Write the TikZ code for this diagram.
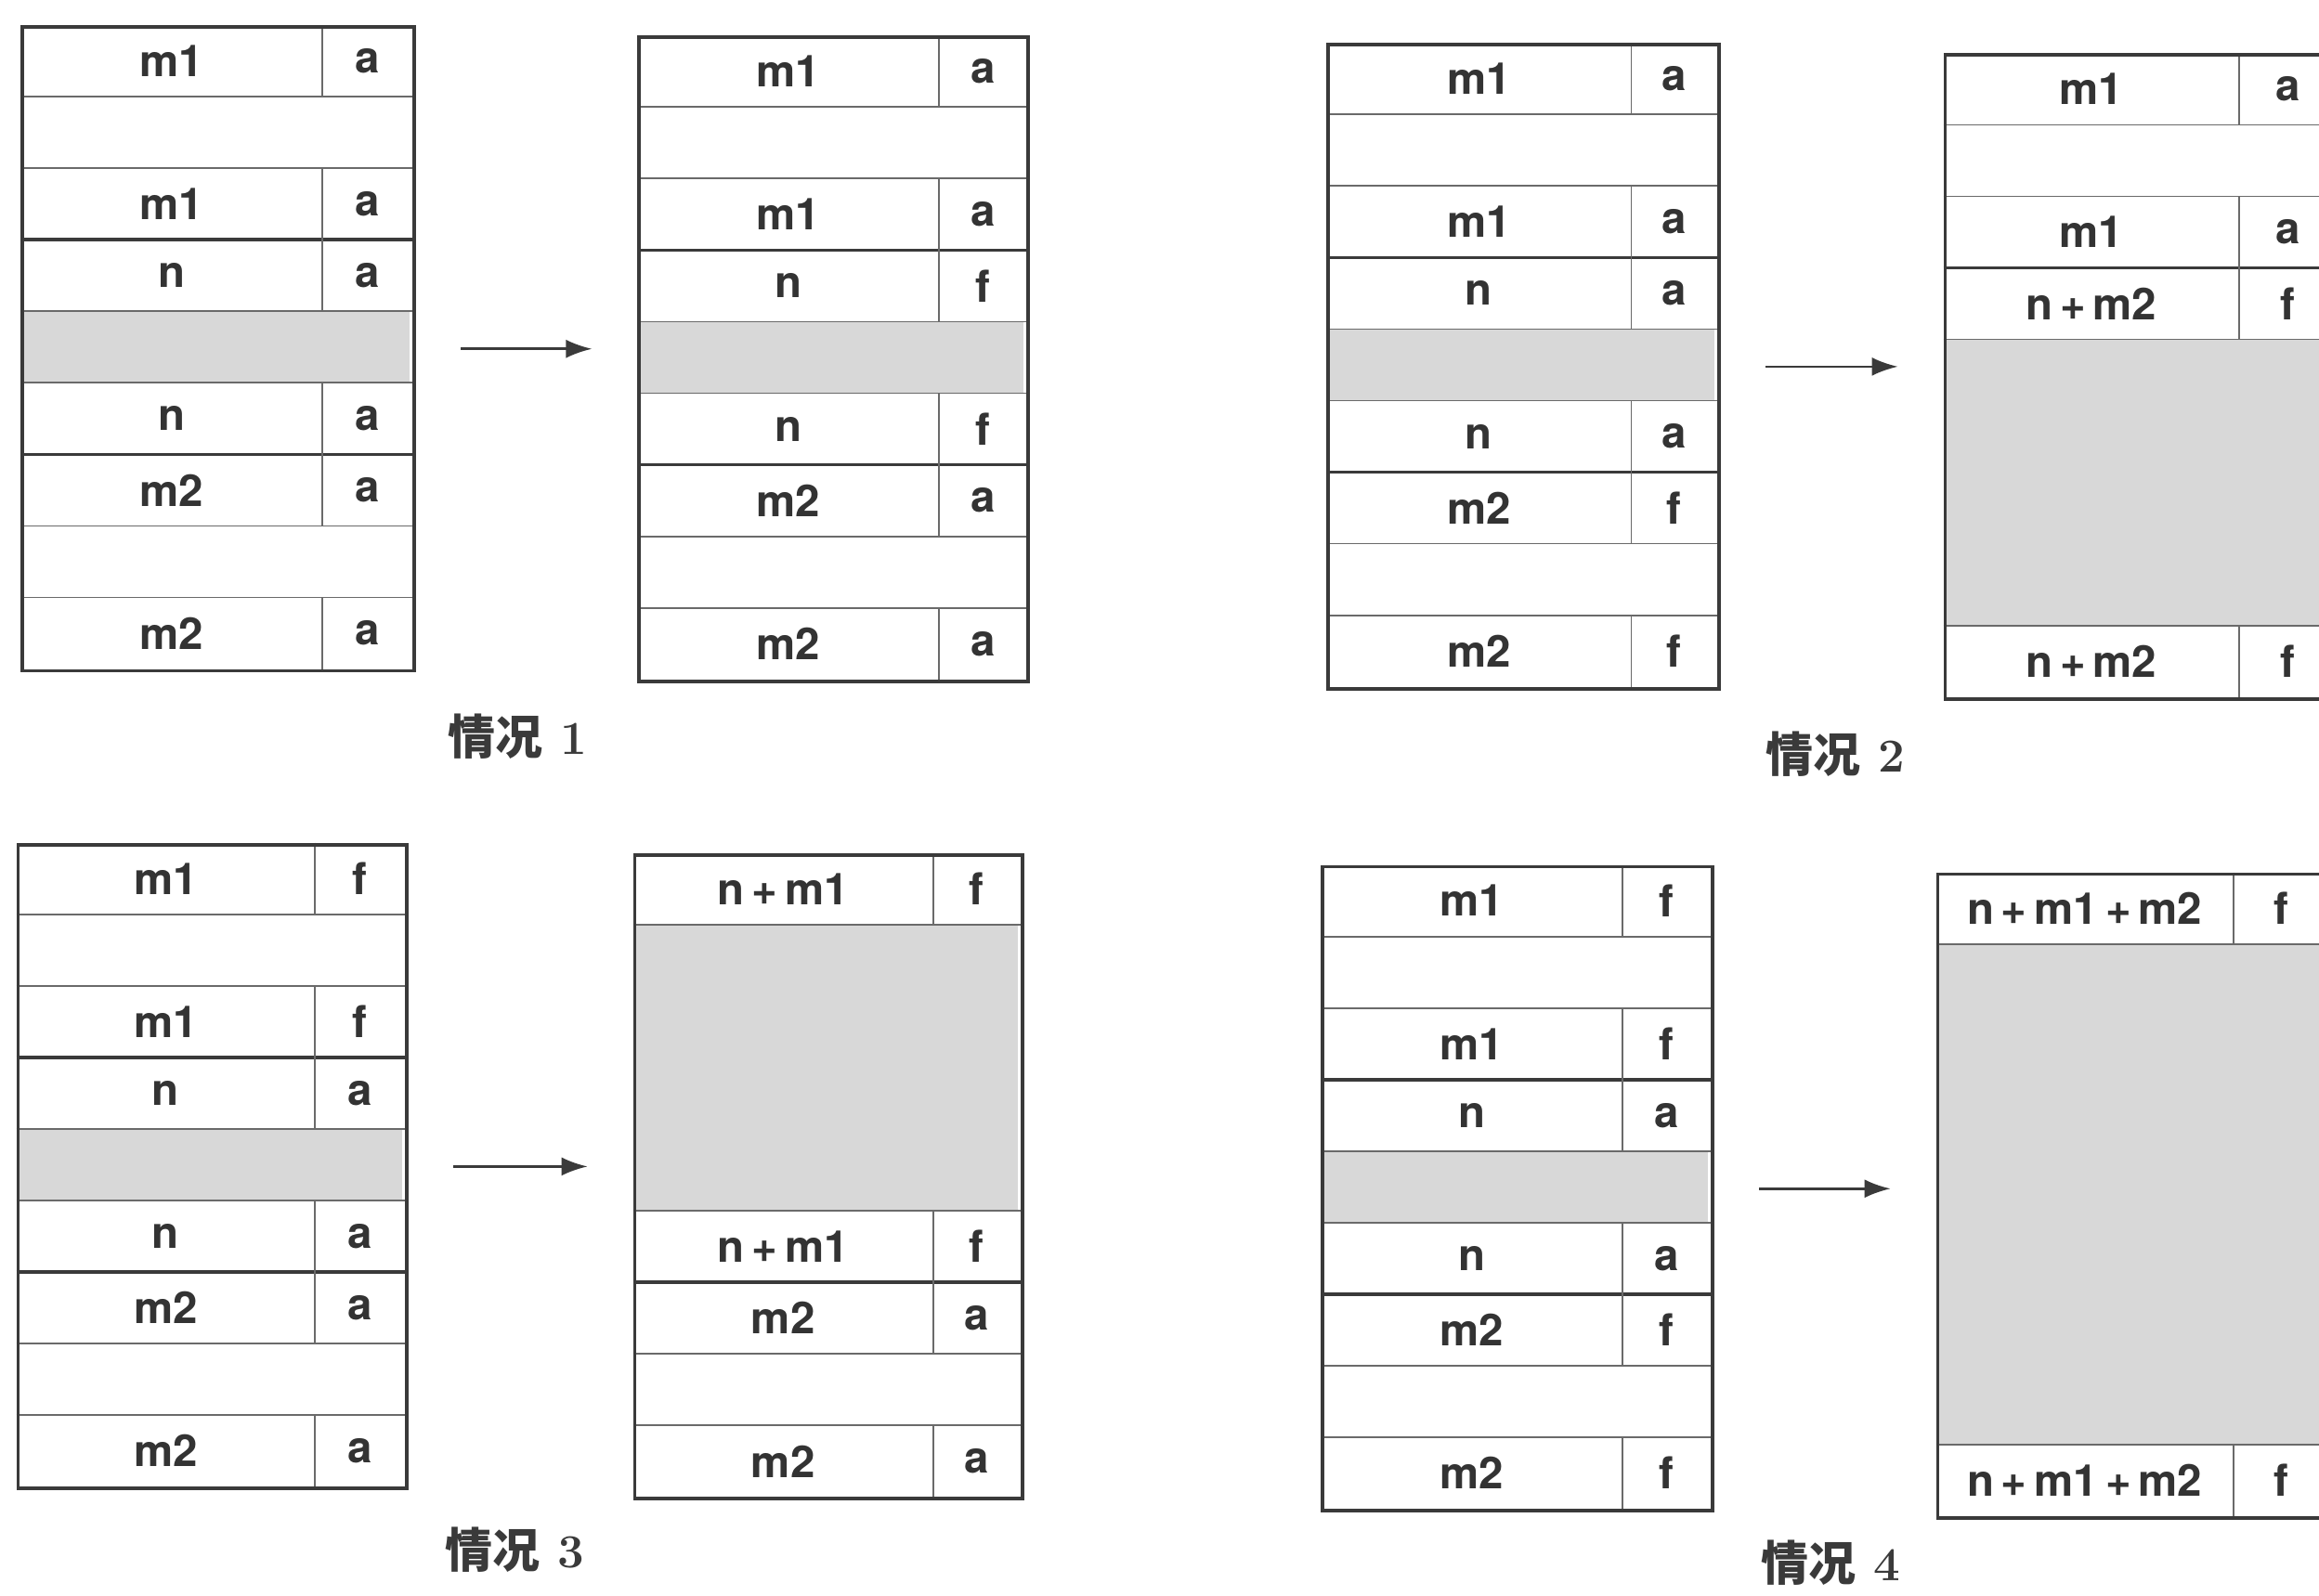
\documentclass[tikz,border=0pt]{standalone}
\usepackage{amsmath}
\usepackage{fontspec}
\newfontfamily\cellfont{TeX Gyre Heros}
\newfontfamily\cjk{Noto Sans CJK SC}
\usepackage{tikz}
\usetikzlibrary{
  arrows.meta,
  positioning
}
\definecolor{memline} {HTML}{3A3A3A}
\definecolor{memthin} {HTML}{6A6A6A}
\definecolor{memhole} {HTML}{D8D8D8}
\definecolor{memtext} {HTML}{333333}

\begin{document}
\begin{tikzpicture}[
  x=0.015925cm, y=-0.015925cm,
  every node/.style={font=\cellfont\bfseries\fontsize{13.5}{15}\selectfont, text=memtext, inner sep=0pt},
  frame/.style={draw=memline, line width=1.1pt, anchor=north west, minimum height=6.937cm},
  thin/.style={draw=memthin, line width=0.5pt},
  sep/.style={draw=memline, line width=1pt},
  hole/.style={fill=memhole},
  arr/.style={-{Latex[length=2.8mm,width=2mm]}, line width=0.75pt, draw=memline,
    shorten <=0.48cm, shorten >=0.49cm},
  caption/.style={font=\bfseries\fontsize{14.5}{17}\selectfont, text=memline},
]
\useasboundingbox (0,0) rectangle (1568,1079);
\clip (0,0) rectangle (1568,1079);
\fill[white] (0,0) rectangle (1568,1079);

% case 1, before
\begin{scope}[shift={(14,17)}, y={(0,-0.7708cm)}]
  \fill[hole] (2,4) rectangle (263,5);
  \foreach \r in {1,2,4,5,7,8} \draw[thin] (0,\r) -- (265,\r);
  \foreach \r in {3,6} \draw[sep] (0,\r) -- (265,\r);
  \foreach \r/\t/\s in {0/m1/a,2/m1/a,3/n/a,5/n/a,6/m2/a,8/m2/a} {
    \draw[thin] (204,\r) -- (204,\r+1);
    \node (before1-t\r) at (102,\r+.5) {\t};
    \node (before1-s\r) at (234.5,\r+.5) {\s};
  }
  \node[frame, minimum width=4.22cm] (before1) at (0,0) {};
\end{scope}

% case 1, after
\begin{scope}[shift={(431,24)}, y={(0,-0.7708cm)}]
  \fill[hole] (2,4) rectangle (261,5);
  \foreach \r in {1,2,4,5,7,8} \draw[thin] (0,\r) -- (263,\r);
  \foreach \r in {3,6} \draw[sep] (0,\r) -- (263,\r);
  \foreach \r/\t/\s in {0/m1/a,2/m1/a,3/n/f,5/n/f,6/m2/a,8/m2/a} {
    \draw[thin] (204,\r) -- (204,\r+1);
    \node (after1-t\r) at (102,\r+.5) {\t};
    \node (after1-s\r) at (233.5,\r+.5) {\s};
  }
  \node[frame, minimum width=4.188cm] (after1) at (0,0) {};
\end{scope}

% case 2, before
\begin{scope}[shift={(897,29)}, y={(0,-0.7708cm)}]
  \fill[hole] (2,4) rectangle (262,5);
  \foreach \r in {1,2,4,5,7,8} \draw[thin] (0,\r) -- (264,\r);
  \foreach \r in {3,6} \draw[sep] (0,\r) -- (264,\r);
  \foreach \r/\t/\s in {0/m1/a,2/m1/a,3/n/a,5/n/a,6/m2/f,8/m2/f} {
    \draw[thin] (206,\r) -- (206,\r+1);
    \node (before2-t\r) at (103,\r+.5) {\t};
    \node (before2-s\r) at (235,\r+.5) {\s};
  }
  \node[frame, minimum width=4.204cm] (before2) at (0,0) {};
\end{scope}

% case 2, after
\begin{scope}[shift={(1314,36)}, y={(0,-0.7708cm)}]
  \fill[hole] (2,4) rectangle (264,8);
  \foreach \r in {1,2,4,8} \draw[thin] (0,\r) -- (266,\r);
  \draw[sep] (0,3) -- (266,3);
  \foreach \r/\t/\s in {0/m1/a,2/m1/a,3/n\,+\,m2/f,8/n\,+\,m2/f} {
    \draw[thin] (200,\r) -- (200,\r+1);
    \node (after2-t\r) at (100,\r+.5) {\t};
    \node (after2-s\r) at (233,\r+.5) {\s};
  }
  \node[frame, minimum width=4.236cm] (after2) at (0,0) {};
\end{scope}

% case 3, before
\begin{scope}[shift={(11,570)}, y={(0,-0.7708cm)}]
  \fill[hole] (2,4) rectangle (261,5);
  \foreach \r in {1,2,4,5,7,8} \draw[thin] (0,\r) -- (263,\r);
  \foreach \r in {3,6} \draw[sep] (0,\r) -- (263,\r);
  \foreach \r/\t/\s in {0/m1/f,2/m1/f,3/n/a,5/n/a,6/m2/a,8/m2/a} {
    \draw[thin] (202,\r) -- (202,\r+1);
    \node (before3-t\r) at (101,\r+.5) {\t};
    \node (before3-s\r) at (232.5,\r+.5) {\s};
  }
  \node[frame, minimum width=4.188cm] (before3) at (0,0) {};
\end{scope}

% case 3, after
\begin{scope}[shift={(428,577)}, y={(0,-0.7708cm)}]
  \fill[hole] (2,1) rectangle (260,5);
  \foreach \r in {1,5,7,8} \draw[thin] (0,\r) -- (262,\r);
  \draw[sep] (0,6) -- (262,6);
  \foreach \r/\t/\s in {0/n\,+\,m1/f,5/n\,+\,m1/f,6/m2/a,8/m2/a} {
    \draw[thin] (203,\r) -- (203,\r+1);
    \node (after3-t\r) at (101.5,\r+.5) {\t};
    \node (after3-s\r) at (232.5,\r+.5) {\s};
  }
  \node[frame, minimum width=4.172cm] (after3) at (0,0) {};
\end{scope}

% case 4, before
\begin{scope}[shift={(893,585)}, y={(0,-0.7708cm)}]
  \fill[hole] (2,4) rectangle (262,5);
  \foreach \r in {1,2,4,5,7,8} \draw[thin] (0,\r) -- (264,\r);
  \foreach \r in {3,6} \draw[sep] (0,\r) -- (264,\r);
  \foreach \r/\t/\s in {0/m1/f,2/m1/f,3/n/a,5/n/a,6/m2/f,8/m2/f} {
    \draw[thin] (204,\r) -- (204,\r+1);
    \node (before4-t\r) at (102,\r+.5) {\t};
    \node (before4-s\r) at (234,\r+.5) {\s};
  }
  \node[frame, minimum width=4.204cm] (before4) at (0,0) {};
\end{scope}

% case 4, after
\begin{scope}[shift={(1309,590)}, y={(0,-0.7708cm)}]
  \fill[hole] (2,1) rectangle (264,8);
  \foreach \r in {1,8} \draw[thin] (0,\r) -- (266,\r);
  \foreach \r/\t/\s in {0/n\,+\,m1\,+\,m2/f,8/n\,+\,m1\,+\,m2/f} {
    \draw[thin] (201,\r) -- (201,\r+1);
    \node (after4-t\r) at (100.5,\r+.5) {\t};
    \node (after4-s\r) at (233.5,\r+.5) {\s};
  }
  \node[frame, minimum width=4.236cm] (after4) at (0,0) {};
\end{scope}

% Arrows
\draw[arr] (before1.east) -- (before1.east -| after1.west);
\draw[arr] (before2.east) -- (before2.east -| after2.west);
\draw[arr] (before3.east) -- (before3.east -| after3.west);
\draw[arr] (before4.east) -- (before4.east -| after4.west);

% Captions
\node[caption] (cap1) at (350,498)  {{\cjk 情况} 1};
\node[caption] (cap2) at (1241,510) {{\cjk 情况} 2};
\node[caption] (cap3) at (348,1048) {{\cjk 情况} 3};
\node[caption] (cap4) at (1238,1057) {{\cjk 情况} 4};
\end{tikzpicture}
\end{document}
